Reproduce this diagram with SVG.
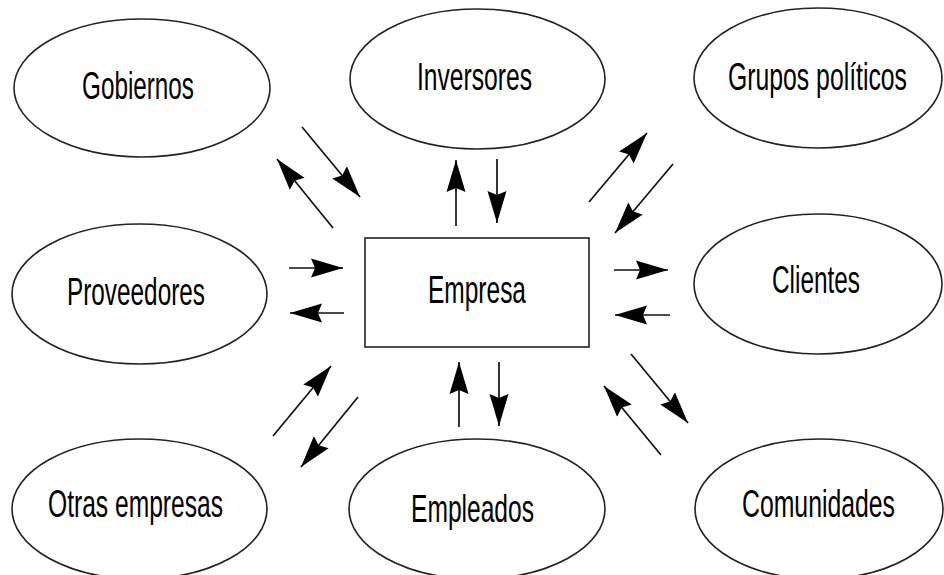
<svg xmlns="http://www.w3.org/2000/svg" width="944" height="575" viewBox="0 0 944 575">
<defs>
<marker id="ah" viewBox="0 0 33 22" markerUnits="userSpaceOnUse" markerWidth="33" markerHeight="22" refX="32" refY="11" orient="auto">
<path d="M0,1.5 L32,11 L0,20.5 L4,11 z" fill="#000"/>
</marker>
<style>
.n{fill:#fff;stroke:#222;stroke-width:1.6}
.t{font-family:"Liberation Sans Narrow","Liberation Sans",Arial,sans-serif;font-size:28px;fill:#000;text-anchor:middle}
.c line{stroke:#111;stroke-width:1.7;marker-end:url(#ah)}
</style>
</defs>
<rect width="944" height="575" fill="#fff"/>
<g id="gobiernos"><ellipse class="n" cx="142" cy="88" rx="128" ry="69"/><text class="t" transform="translate(138,99) scale(1,1.36)" textLength="112" lengthAdjust="spacingAndGlyphs">Gobiernos</text></g>
<g id="inversores"><ellipse class="n" cx="477.5" cy="79" rx="127.5" ry="70"/><text class="t" transform="translate(474.5,90) scale(1,1.36)" textLength="115" lengthAdjust="spacingAndGlyphs">Inversores</text></g>
<g id="grupos"><ellipse class="n" cx="818" cy="78" rx="124" ry="70"/><text class="t" transform="translate(817.5,90) scale(1,1.36)" textLength="179" lengthAdjust="spacingAndGlyphs">Grupos políticos</text></g>
<g id="proveedores"><ellipse class="n" cx="139.5" cy="294" rx="127.5" ry="70"/><text class="t" transform="translate(136,305) scale(1,1.36)" textLength="138" lengthAdjust="spacingAndGlyphs">Proveedores</text></g>
<g id="empresa"><rect class="n" x="365" y="238" width="224" height="109"/><text class="t" transform="translate(477,303) scale(1,1.36)" textLength="98" lengthAdjust="spacingAndGlyphs">Empresa</text></g>
<g id="clientes"><ellipse class="n" cx="818" cy="284" rx="124" ry="70"/><text class="t" transform="translate(816,293) scale(1,1.36)" textLength="88" lengthAdjust="spacingAndGlyphs">Clientes</text></g>
<g id="otras"><ellipse class="n" cx="139.5" cy="509" rx="127.5" ry="70"/><text class="t" transform="translate(135.5,517) scale(1,1.36)" textLength="175" lengthAdjust="spacingAndGlyphs">Otras empresas</text></g>
<g id="empleados"><ellipse class="n" cx="477" cy="509" rx="128" ry="70"/><text class="t" transform="translate(472.5,522) scale(1,1.36)" textLength="123" lengthAdjust="spacingAndGlyphs">Empleados</text></g>
<g id="comunidades"><ellipse class="n" cx="819" cy="509" rx="124" ry="70"/><text class="t" transform="translate(818.5,517) scale(1,1.36)" textLength="153" lengthAdjust="spacingAndGlyphs">Comunidades</text></g>
<g id="connectors" class="c">
<line x1="333" y1="228" x2="277" y2="159"/>
<line x1="302" y1="127" x2="360" y2="197"/>
<line x1="456" y1="226" x2="456" y2="160"/>
<line x1="497" y1="159" x2="497" y2="223"/>
<line x1="589" y1="202" x2="647" y2="133"/>
<line x1="673" y1="164" x2="615" y2="233"/>
<line x1="289" y1="268" x2="343" y2="268"/>
<line x1="344" y1="313" x2="290" y2="313"/>
<line x1="614" y1="270" x2="668" y2="270"/>
<line x1="670" y1="315" x2="615" y2="315"/>
<line x1="273" y1="436" x2="331" y2="366"/>
<line x1="358" y1="397" x2="301" y2="467"/>
<line x1="459" y1="427" x2="459" y2="362"/>
<line x1="499" y1="362" x2="499" y2="426"/>
<line x1="661" y1="455" x2="604" y2="386"/>
<line x1="631" y1="354" x2="688" y2="423"/>
</g>
</svg>
